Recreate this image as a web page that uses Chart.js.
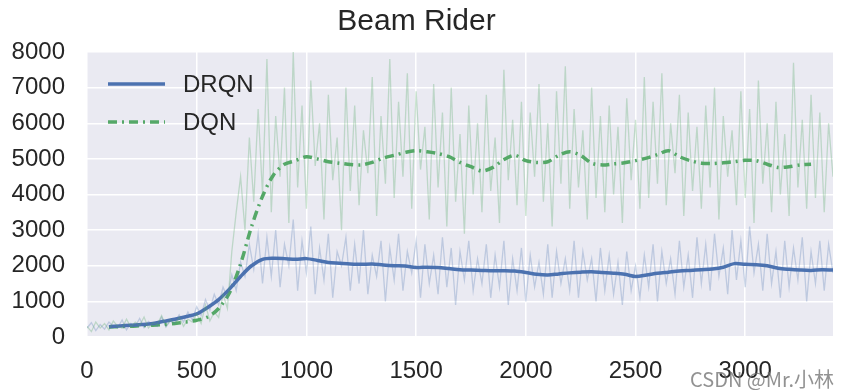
<!DOCTYPE html>
<html>
<head>
<meta charset="utf-8">
<script src="https://cdn.jsdelivr.net/npm/chart.js@4/dist/chart.umd.min.js"></script>
<style>
  html, body { margin: 0; padding: 0; background: #fff; }
  #wrap { position: relative; width: 855px; height: 390px; }
  #mark { position: absolute; left: 690px; top: 364px; font: 20px "Noto Sans CJK SC", "Liberation Sans", sans-serif; color: rgba(110,110,110,0.75); white-space: nowrap; }
</style>
</head>
<body>
<div id="wrap">
  <canvas id="chart" width="855" height="390"></canvas>
  <div id="mark">CSDN @Mr.小林</div>
</div>
<script>
// data
const title = 'Beam Rider';
const seriesNames = ['DRQN', 'DQN'];
const xTicks = [0, 500, 1000, 1500, 2000, 2500, 3000];
const yTicks = [0, 1000, 2000, 3000, 4000, 5000, 6000, 7000, 8000];

// raw episodes, one every 20 steps from 0 to 3400
const rawStep = 20;
const drqnRaw = [
    250, 400, 180, 350, 220, 420, 300, 260, 480, 200,
    380, 300, 520, 260, 440, 350, 300, 560, 280, 450,
    380, 620, 420, 700, 480, 850, 600, 1050, 750, 1200,
    900, 1400, 1100, 1750, 1300, 2100, 1700, 2600, 1900, 2900,
    1500, 2800, 1700, 3000, 1400, 2600, 2000, 3300, 1300, 2700,
    1800, 3100, 1200, 2500, 1600, 2900, 1100, 2400, 2000, 2800,
    1300, 2600, 1500, 3000, 1200, 2300, 1700, 2700, 1000, 2500,
    1600, 2900, 1300, 2400, 1800, 2700, 1100, 2600, 1500, 2300,
    1200, 2800, 1400, 2500, 900, 2400, 1600, 2700, 1300, 2200,
    1500, 2600, 1100, 2300, 1400, 2700, 900, 2200, 1300, 2500,
    1000, 2300, 1400, 2100, 1200, 2600, 1100, 2400, 1500, 2200,
    1300, 2700, 1100, 2400, 1600, 2200, 1000, 2500, 1300, 2300,
    1200, 2100, 900, 2400, 1300, 2000, 1100, 2300, 1400, 2600,
    1000, 2400, 1500, 2200, 1200, 2700, 1400, 2300, 1100, 2800,
    1500, 2600, 1300, 2900, 1700, 2500, 1200, 3000, 1600, 2700,
    1400, 3100, 1800, 2600, 1300, 2900, 1500, 2400, 1100, 2700,
    1400, 2500, 1600, 2800, 1000, 2400, 1500, 2700, 1300, 2600,
    1800
];
const dqnRaw = [
    300, 150, 420, 250, 380, 200, 450, 300, 250, 500,
    280, 420, 320, 560, 250, 400, 350, 600, 300, 480,
    350, 550, 300, 500, 420, 650, 380, 900, 450, 700,
    550, 1200, 800, 2400, 3500, 4500, 3000, 5600, 3800, 6400,
    4000, 7800, 3500, 6200, 4500, 7000, 3200, 8000, 4200, 6500,
    3600, 7200, 4800, 6000, 3300, 6800, 4400, 5600, 3000, 7000,
    4100, 6500, 3700, 5800, 4600, 7300, 3400, 6200, 4300, 7800,
    3900, 6600, 4500, 7400, 3600, 6900, 4700, 5900, 3300, 7100,
    4200, 6300, 3100, 7000, 3800, 5700, 2900, 6500, 4000, 6000,
    3500, 6800, 4100, 5600, 3200, 7500, 4400, 6100, 3700, 6600,
    3400, 6300, 4500, 7100, 3800, 6000, 3100, 6900, 4300, 7600,
    3600, 6400, 4200, 5800, 3300, 7000, 3900, 6200, 3500, 6500,
    4000, 5900, 3200, 6700, 4400, 6100, 3600, 7300, 3900, 6600,
    4300, 7400, 3700, 6000, 4600, 6800, 3400, 6300, 4100, 5900,
    3600, 6500, 4200, 7000, 3300, 6200, 4500, 5800, 3700, 6900,
    3900, 6400, 3200, 7200, 4300, 6000, 3500, 6600, 4000, 5700,
    3400, 7700, 4200, 6100, 3600, 6800, 3900, 6300, 3500, 6000,
    4500
];

// smoothed curves, one every 50 steps starting at 100
const smoothStart = 100;
const smoothStep = 50;
const drqnSmooth = [
    290, 310, 330, 350, 380, 440, 500, 570, 650, 830,
    1050, 1350, 1700, 2000, 2180, 2210, 2200, 2180, 2200, 2150,
    2090, 2070, 2050, 2040, 2050, 2020, 2000, 1990, 1950, 1960,
    1950, 1920, 1890, 1880, 1870, 1860, 1860, 1850, 1810, 1760,
    1740, 1770, 1800, 1820, 1830, 1810, 1790, 1760, 1700, 1740,
    1790, 1820, 1850, 1870, 1890, 1910, 1960, 2060, 2040, 2030,
    2000, 1930, 1900, 1880, 1870, 1890, 1880
];
const dqnSmooth = [
    280, 290, 300, 320, 330, 350, 380, 420, 470, 560,
    800, 1250, 2050, 3100, 3950, 4550, 4850, 4950, 5060, 5000,
    4920, 4880, 4840, 4830, 4900, 5020, 5100, 5180, 5230, 5200,
    5150, 5060, 4900, 4780, 4660, 4760, 4980, 5100, 4950, 4900,
    4920, 5100, 5200, 5100, 4880, 4830, 4860, 4890, 4950, 5020,
    5120, 5230, 5060, 4950, 4880, 4870, 4890, 4920, 4960, 4950,
    4850, 4760, 4780, 4830, 4850
];

const BLUE = '#4C72B0';
const GREEN = '#55A868';
const DQN_DASH = [9, 5, 2, 5];
const FONT = '"Liberation Sans", Arial, sans-serif';

function toPoints(values, start, step) {
    return values.map((v, i) => ({ x: start + i * step, y: v }));
}

const plotBackground = {
    id: 'plotBackground',
    beforeDraw(chart) {
        const { ctx, chartArea: a } = chart;
        ctx.save();
        ctx.fillStyle = '#EAEAF2';
        ctx.fillRect(a.left, a.top, a.right - a.left, a.bottom - a.top);
        ctx.restore();
    }
};

// legend sits inside the plot, upper left
const innerLegend = {
    id: 'innerLegend',
    afterDraw(chart) {
        const { ctx, chartArea: a } = chart;
        const items = [
            { label: seriesNames[0], color: BLUE, dash: [] },
            { label: seriesNames[1], color: GREEN, dash: DQN_DASH }
        ];
        ctx.save();
        items.forEach((item, i) => {
            const y = a.top + 32 + i * 38;
            ctx.strokeStyle = item.color;
            ctx.lineWidth = 3.5;
            ctx.setLineDash(item.dash);
            ctx.beginPath();
            ctx.moveTo(a.left + 21, y);
            ctx.lineTo(a.left + 78, y);
            ctx.stroke();
            ctx.setLineDash([]);
            ctx.fillStyle = '#262626';
            ctx.font = '24px ' + FONT;
            ctx.textBaseline = 'middle';
            ctx.fillText(item.label, a.left + 96, y + 1);
        });
        ctx.restore();
    }
};

new Chart(document.getElementById('chart'), {
    type: 'line',
    data: {
        datasets: [
            {
                label: seriesNames[1] + ' raw',
                data: toPoints(dqnRaw, 0, rawStep),
                borderColor: 'rgba(85, 168, 104, 0.3)',
                borderWidth: 1.3,
                pointRadius: 0,
                tension: 0
            },
            {
                label: seriesNames[0] + ' raw',
                data: toPoints(drqnRaw, 0, rawStep),
                borderColor: 'rgba(76, 114, 176, 0.28)',
                borderWidth: 1.3,
                pointRadius: 0,
                tension: 0
            },
            {
                label: seriesNames[0],
                data: toPoints(drqnSmooth, smoothStart, smoothStep),
                borderColor: BLUE,
                borderWidth: 3.5,
                pointRadius: 0,
                tension: 0.3
            },
            {
                label: seriesNames[1],
                data: toPoints(dqnSmooth, smoothStart, smoothStep),
                borderColor: GREEN,
                borderWidth: 3.5,
                borderDash: DQN_DASH,
                pointRadius: 0,
                tension: 0.3
            }
        ]
    },
    options: {
        responsive: false,
        animation: false,
        layout: { padding: { left: 0, right: 22, top: 0, bottom: 0 } },
        plugins: {
            legend: { display: false },
            tooltip: { enabled: false },
            title: {
                display: true,
                text: title,
                color: '#262626',
                font: { size: 30, family: FONT, weight: 'normal' },
                padding: { top: 4, bottom: 12 }
            }
        },
        scales: {
            x: {
                type: 'linear',
                min: 0,
                max: 3400,
                afterBuildTicks: axis => { axis.ticks = xTicks.map(v => ({ value: v })); },
                afterFit: axis => { axis.height = 53; },
                grid: { color: '#ffffff', lineWidth: 1.5, drawTicks: false },
                border: { display: false },
                ticks: {
                    padding: 20,
                    color: '#262626',
                    font: { size: 24, family: FONT },
                    maxRotation: 0,
                    callback: v => String(v)
                }
            },
            y: {
                min: 0,
                max: 8000,
                afterBuildTicks: axis => { axis.ticks = yTicks.map(v => ({ value: v })); },
                afterFit: axis => { axis.width = 87; },
                grid: { color: '#ffffff', lineWidth: 1.5, drawTicks: false },
                border: { display: false },
                ticks: {
                    padding: 22,
                    color: '#262626',
                    font: { size: 24, family: FONT },
                    callback: v => String(v)
                }
            }
        }
    },
    plugins: [plotBackground, innerLegend]
});
</script>
</body>
</html>
